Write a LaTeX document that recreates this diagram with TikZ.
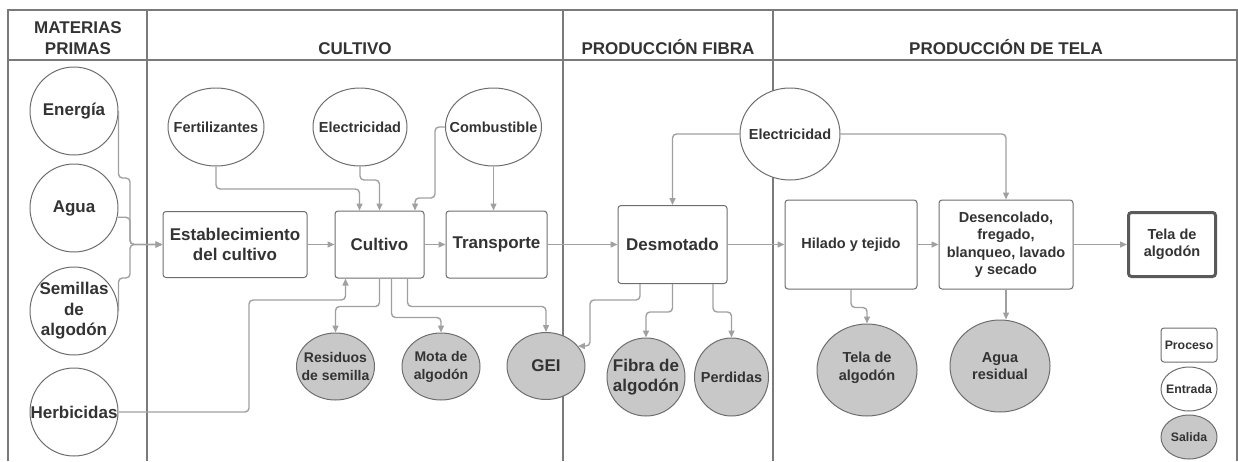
\documentclass[tikz,border=0pt]{standalone}
\usepackage{fontspec}
\setmainfont{Liberation Sans}
\usetikzlibrary{shapes.geometric,arrows.meta,calc}
\definecolor{txt}{HTML}{333333}
\definecolor{bordc}{HTML}{6E6E6E}
\definecolor{connc}{HTML}{A0A0A0}
\definecolor{framec}{HTML}{7A7A7A}
\definecolor{outfill}{HTML}{C8C8C8}
\definecolor{thickc}{HTML}{5A5A5A}
\newcommand\fsA{\fontsize{17}{20.5}\selectfont\bfseries}
\newcommand\fsB{\fontsize{14.5}{17.5}\selectfont\bfseries}
\newcommand\fsC{\fontsize{12.3}{14}\selectfont\bfseries}
\newcommand\fsR{\fontsize{14}{18}\selectfont\bfseries}
\tikzset{
  proc/.style={draw=bordc, line width=1pt, rounded corners=3pt, fill=white, inner sep=2pt, align=center, text=txt},
  inp/.style={ellipse, draw=bordc, line width=1pt, fill=white, inner sep=0pt},
  outp/.style={ellipse, draw=bordc, line width=1pt, fill=outfill, inner sep=0pt},
  lbl/.style={inner sep=0pt, align=center, text=txt},
  hdr/.style={inner sep=0pt, align=center, text=txt, font=\fsA, anchor=base},
  conn/.style={draw=connc, line width=1.4pt, rounded corners=4pt, -{Triangle[length=7pt,width=6pt]}},
  framel/.style={draw=framec, line width=1.3pt},
}
\begin{document}
\begin{tikzpicture}[x=1pt,y=-1pt]
\useasboundingbox (0,0) rectangle (1238,461);
% frame
\draw[framel] (8,461) -- (8,10) -- (1237,10) -- (1237,461);
\draw[framel] (8,60) -- (1237,60);
\draw[framel] (147,10) -- (147,461);
\draw[framel] (563,10) -- (563,461);
\draw[framel] (773,10) -- (773,461);
% headers
\node[hdr] (h1) at (78,54) {MATERIAS\\[0.5pt]PRIMAS};
\node[hdr] (h2) at (355,54) {CULTIVO};
\node[hdr] (h3) at (668,54) {PRODUCCIÓN FIBRA};
\node[hdr] (h4) at (1006,54) {PRODUCCIÓN DE TELA};
% process boxes
\node[proc, minimum width=144pt, minimum height=66pt, font=\fsA] (estab) at (235,244.5) {Establecimiento\\del cultivo};
\node[proc, minimum width=89pt, minimum height=67pt, font=\fsA] (cult) at (379.5,244.5) {Cultivo};
\node[proc, minimum width=101pt, minimum height=67pt, font=\fsA] (transp) at (496.5,244.5) {Transporte};
\node[proc, minimum width=109pt, minimum height=78pt, font=\fsA] (desmot) at (672.5,244.5) {Desmotado};
\node[proc, minimum width=132pt, minimum height=89pt, font=\fsB] (hilado) at (851,244.5) {Hilado y tejido};
\node[proc, minimum width=134pt, minimum height=89pt, font=\fsB] (desenc) at (1006,244.5) {Desencolado,\\fregado,\\blanqueo, lavado\\y secado};
\node[proc, draw=thickc, line width=3pt, minimum width=87pt, minimum height=64pt, font=\fsB] (telabox) at (1172,244.5) {Tela de\\algodón};
% inputs
\node[inp, minimum width=88pt, minimum height=88pt] (energia) at (74,111) {};
\node[inp, minimum width=88pt, minimum height=88pt] (agua) at (74,208) {};
\node[inp, minimum width=88pt, minimum height=88pt] (semillas) at (74,311) {};
\node[inp, minimum width=88pt, minimum height=88pt] (herb) at (74,412) {};
\node[inp, minimum width=96pt, minimum height=78pt] (fert) at (216,127) {};
\node[inp, minimum width=94pt, minimum height=78pt] (elec1) at (360,127) {};
\node[inp, minimum width=96pt, minimum height=78pt] (comb) at (493.5,127) {};
\node[inp, minimum width=100pt, minimum height=92pt] (elec2) at (790,134) {};
% outputs
\node[outp, minimum width=78pt, minimum height=67pt] (resid) at (335.5,366.5) {};
\node[outp, minimum width=78pt, minimum height=67pt] (mota) at (441,366.5) {};
\node[outp, minimum width=78pt, minimum height=67pt] (gei) at (546,366) {};
\node[outp, minimum width=78pt, minimum height=78pt] (fibra) at (646,377) {};
\node[outp, minimum width=74pt, minimum height=78pt] (perd) at (731.5,377) {};
\node[outp, minimum width=100pt, minimum height=92pt] (telaout) at (867,370) {};
\node[outp, minimum width=100pt, minimum height=92pt] (aguares) at (1000,366) {};
% legend
\node[proc, minimum width=56pt, minimum height=34pt, font=\fsC] (legp) at (1189,345) {Proceso};
\node[inp, minimum width=56pt, minimum height=44pt] (lege) at (1189,389) {};
\node[outp, minimum width=56pt, minimum height=44pt] (legs) at (1189,437) {};
% labels in ellipses
\node[lbl, font=\fsA] (energia-t) at (energia) {Energía};
\node[lbl, font=\fsA] (agua-t) at (agua) {Agua};
\node[lbl, font=\fsA] (semillas-t) at (semillas) {Semillas\\de\\algodón};
\node[lbl, font=\fsA] (herb-t) at (herb) {Herbicidas};
\node[lbl, font=\fsB] (fert-t) at (fert) {Fertilizantes};
\node[lbl, font=\fsB] (elec1-t) at (elec1) {Electricidad};
\node[lbl, font=\fsB] (comb-t) at (comb) {Combustible};
\node[lbl, font=\fsB] (elec2-t) at (elec2) {Electricidad};
\node[lbl, font=\fsR] (resid-t) at (resid) {Residuos\\de semilla};
\node[lbl, font=\fsR] (mota-t) at (mota) {Mota de\\algodón};
\node[lbl, font=\fsA] (gei-t) at (gei) {GEI};
\node[lbl, font=\fsA] (fibra-t) at (fibra) {Fibra de\\algodón};
\node[lbl, font=\fsB] (perd-t) at (perd) {Perdidas};
\node[lbl, font=\fsB] (telaout-t) at ($(telaout)+(0,-2)$) {Tela de\\algodón};
\node[lbl, font=\fsB] (aguares-t) at (aguares) {Agua\\residual};
\node[lbl, font=\fsC] (lege-t) at (lege) {Entrada};
\node[lbl, font=\fsC] (legs-t) at (legs) {Salida};
% connectors: raw materials
\draw[conn] (energia.east) |- (130,178) |- (estab.west);
\draw[conn] (agua.-12) -| (130,244.5) -- (estab.west);
\draw[conn] (semillas.east) |- (130,278) |- (estab.west);
\draw[conn] (herb.east) -| (249,300) -| ($(cult.south)+(-34,0)$);
% main chain
\draw[conn] (estab.east) -- (estab.east -| cult.west);
\draw[conn] (cult.east) -- (transp.west);
\draw[conn] (transp.east) -- (transp.east -| desmot.west);
\draw[conn] (desmot.east) -- (desmot.east -| hilado.west);
\draw[conn] (hilado.east) -- (desenc.west);
\draw[conn] (desenc.east) -- (desenc.east -| telabox.west);
% inputs to cultivo / transporte
\draw[conn] (fert.south) |- (359.5,189) -- ($(cult.north)+(-20,0)$);
\draw[conn] (elec1.south) -- (360,180) -| (cult.north);
\draw[conn] (comb.west) -| (435,198) -| ($(cult.north)+(35.5,0)$);
\draw[conn] (comb.south) -- (comb.south |- transp.north);
% outputs of cultivo
\draw[conn] (cult.south) -- ++(0,28) -| (resid.north);
\draw[conn] ($(cult.south)+(12,0)$) -- ++(0,39) -| (mota.north);
\draw[conn] ($(cult.south)+(28,0)$) -- ++(0,28) -| (gei.north);
% desmotado
\draw[conn] (elec2.west) -| (desmot.north);
\draw[conn] ($(desmot.south)+(-32.5,0)$) -- ++(0,16) -| (590,346) -- (gei.32);
\draw[conn] (desmot.south) -- ++(0,28) -| (fibra.north);
\draw[conn] ($(desmot.south)+(40.5,0)$) -- ++(0,28) -| (perd.north);
% tela
\draw[conn] (elec2.east) -| (desenc.north);
\draw[conn] (hilado.south) -- ++(0,18) -| (telaout.north);
\draw[conn] (desenc.south) -- (desenc.south |- aguares.north);
\end{tikzpicture}
\end{document}
